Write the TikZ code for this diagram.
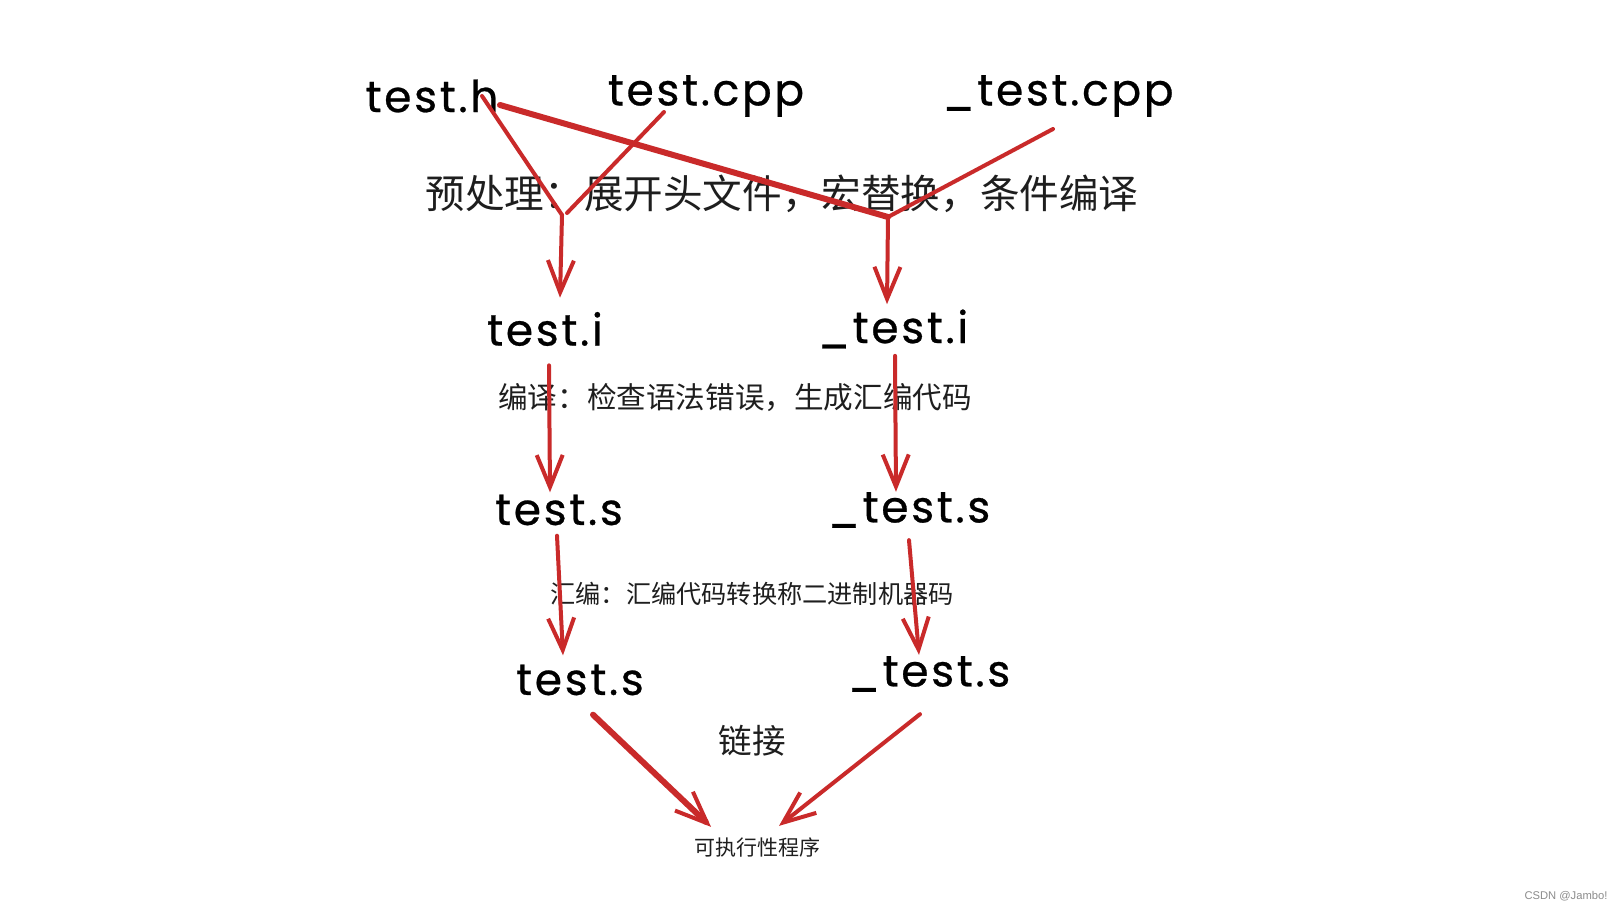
\documentclass[tikz,border=0pt]{standalone}
\usepackage{fontspec}
\usetikzlibrary{arrows.meta,calc}
\newfontfamily\hand[LetterSpace=6,FakeBold=0.6]{Poppins}
\newfontfamily\cjk{Noto Sans CJK SC}
\newfontfamily\wm{Liberation Sans}
\definecolor{exred}{RGB}{201,42,42}
\definecolor{txt}{RGB}{30,30,30}
\tikzset{
  file/.style={inner sep=0pt, font=\hand\fontsize{22}{26}\selectfont, text=black},
  note/.style={inner sep=0pt, text=txt},
  conn/.style={draw=exred, line width=2pt, line cap=round, line join=round},
  thick conn/.style={conn, line width=3pt},
  arr/.style={-{Straight Barb[length=16pt,width=13pt,line width=2pt]}},
}
\begin{document}
\begin{tikzpicture}[x=0.5pt,y=-0.5pt]
\useasboundingbox[fill=white] (0,0) rectangle (1623,911);
% files
\node[file] (th)  at (432,96) {test.h};
\node[file] (tc)  at (706,96) {test.cpp};
\node[file] (utc) at (1058,96) {\_test.cpp};
\node[file] (ti)  at (545,329) {test.i};
\node[file] (uti) at (893,329) {\_test.i};
\node[file] (ts)  at (559,510) {test.s};
\node[file] (uts) at (909,510) {\_test.s};
\node[file] (ts2) at (580,680) {test.s};
\node[file] (uts2) at (929,674) {\_test.s};
% notes
\node[note, font=\cjk\fontsize{19.8}{22}\selectfont] (pre) at (782,194) {预处理：展开头文件，宏替换，条件编译};
\node[note, font=\cjk\fontsize{14.8}{17}\selectfont] (comp) at (735,398) {编译：检查语法错误，生成汇编代码};
\node[note, font=\cjk\fontsize{12.6}{15}\selectfont] (asm) at (752,594) {汇编：汇编代码转换称二进制机器码};
\node[note, font=\cjk\fontsize{16.8}{19}\selectfont] (link) at (752,741) {链接};
\node[note, font=\cjk\fontsize{10.5}{12}\selectfont] (exe) at (757,847) {可执行性程序};
\node[inner sep=0pt, font=\wm\fontsize{5.6}{7}\selectfont, text=black!45] (wm) at (1566,896) {CSDN @Jambo!};
% junctions
\coordinate (j1) at (562,215);
\coordinate (j2) at (888,217);
% connectors
\draw[conn] ($(th.center)+(50,0)$) -- (j1);
\draw[conn] ($(tc.center)+(-42,16)$) -- ($(j1)+(5,-2)$);
\draw[thick conn] ($(th.center)+(68,9)$) -- (j2);
\draw[conn] ($(utc.center)+(-5,33)$) -- (j2);
\draw[conn,arr] (j1) -- ($(ti.north)+(15,-14)$);
\draw[conn,arr] (j2) -- ($(uti.north)+(-6,-5)$);
\draw[conn,arr] ($(ti.south)+(4,19)$) -- ($(ts.north)+(-9,-2)$);
\draw[conn,arr] ($(uti.south)+(2,7)$) -- ($(uts.north)+(-13,0)$);
\draw[conn,arr] ($(ts.south)+(-2,10)$) -- ($(ts2.north)+(-17,-9)$);
\draw[conn,arr] ($(uts.south)+(0,12)$) -- ($(uts2.north)+(-10,-1)$);
\draw[thick conn,arr] ($(ts2.south)+(13,19)$) -- ($(exe.north)+(-46,-10)$);
\draw[conn,arr] ($(uts2.south)+(-9,22)$) -- ($(exe.north)+(22,-11)$);
\end{tikzpicture}
\end{document}
